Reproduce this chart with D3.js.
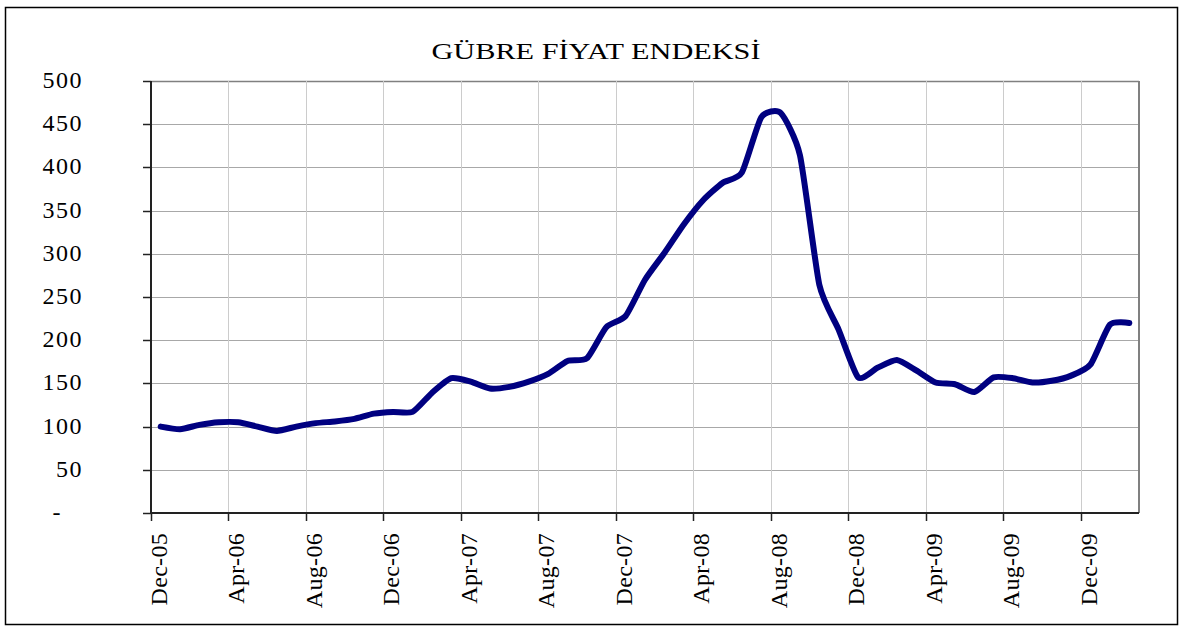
<!DOCTYPE html>
<html>
<head>
<meta charset="utf-8">
<script src="https://cdn.jsdelivr.net/npm/d3@7"></script>
<style>
    body { margin: 0; background: #fff; }
    text { font-family: "Liberation Serif", "Times New Roman", serif; fill: #000; }
</style>
</head>
<body>
<div id="chart"></div>
<script>

// monthly categories, Dec-05 .. Feb-10
var months = [
    "Dec-05", "Jan-06", "Feb-06", "Mar-06", "Apr-06", "May-06", "Jun-06", "Jul-06", "Aug-06", "Sep-06", "Oct-06", "Nov-06",
    "Dec-06", "Jan-07", "Feb-07", "Mar-07", "Apr-07", "May-07", "Jun-07", "Jul-07", "Aug-07", "Sep-07", "Oct-07", "Nov-07",
    "Dec-07", "Jan-08", "Feb-08", "Mar-08", "Apr-08", "May-08", "Jun-08", "Jul-08", "Aug-08", "Sep-08", "Oct-08", "Nov-08",
    "Dec-08", "Jan-09", "Feb-09", "Mar-09", "Apr-09", "May-09", "Jun-09", "Jul-09", "Aug-09", "Sep-09", "Oct-09", "Nov-09",
    "Dec-09", "Jan-10", "Feb-10"
]

var index = [
    100, 97, 102, 105, 105, 100, 95, 100, 104, 106, 109, 115,
    117, 117, 139, 156, 152, 144, 146, 152, 161, 176, 179, 215,
    228, 270, 301, 334, 362, 382, 394, 458, 463, 414, 264, 212,
    157, 168, 177, 165, 151, 149, 140, 157, 156, 151, 153, 159,
    172, 218, 220
]

var xTickLabels = ["Dec-05", "Apr-06", "Aug-06", "Dec-06", "Apr-07", "Aug-07", "Dec-07",
    "Apr-08", "Aug-08", "Dec-08", "Apr-09", "Aug-09", "Dec-09"]

var yTicks = [0, 50, 100, 150, 200, 250, 300, 350, 400, 450, 500]
var yTickLabels = ["-", "50", "100", "150", "200", "250", "300", "350", "400", "450", "500"]

var title = "GÜBRE FİYAT ENDEKSİ"

function draw() {
    let W = 1184, H = 632
    let pl = 151, pr = 1139, pt = 81, pb = 513

    let svg = d3.select("#chart").append("svg")
        .attr("width", W)
        .attr("height", H)

    // outer frame
    svg.append("rect")
        .attr("x", 5.5).attr("y", 7.5)
        .attr("width", 1172).attr("height", 617)
        .attr("fill", "#fff")
        .attr("stroke", "#000")
        .attr("stroke-width", 1.5)

    let x = d3.scaleBand().domain(months).range([pl, pr]).padding(0)
    let y = d3.scaleLinear().domain([0, 500]).range([pb, pt])

    // horizontal grid
    svg.append("g")
        .selectAll("line")
        .data(yTicks.slice(1))
        .enter()
        .append("line")
        .attr("x1", pl).attr("x2", pr)
        .attr("y1", d => Math.round(y(d)) + 0.5)
        .attr("y2", d => Math.round(y(d)) + 0.5)
        .attr("stroke", d => d == 500 ? "#808080" : "#a8a8a8")
        .attr("stroke-width", d => d == 500 ? 1.5 : 1)

    // vertical grid
    svg.append("g")
        .selectAll("line")
        .data(xTickLabels.slice(1))
        .enter()
        .append("line")
        .attr("x1", d => Math.round(x(d)) + 0.5)
        .attr("x2", d => Math.round(x(d)) + 0.5)
        .attr("y1", pt).attr("y2", pb)
        .attr("stroke", "#cccccc")
        .attr("stroke-width", 1)

    // right border of plot area
    svg.append("line")
        .attr("x1", pr).attr("x2", pr)
        .attr("y1", pt).attr("y2", pb)
        .attr("stroke", "#808080")
        .attr("stroke-width", 2)

    // y axis
    let yAxis = svg.append("g")
    yAxis.append("line")
        .attr("x1", pl).attr("x2", pl)
        .attr("y1", pt).attr("y2", pb)
        .attr("stroke", "#222").attr("stroke-width", 2)
    yAxis.selectAll(".ytick")
        .data(yTicks)
        .enter()
        .append("line")
        .attr("x1", pl - 8).attr("x2", pl)
        .attr("y1", d => Math.round(y(d)) + 0.5)
        .attr("y2", d => Math.round(y(d)) + 0.5)
        .attr("stroke", "#222").attr("stroke-width", 1.5)
    yAxis.selectAll(".ylab")
        .data(yTicks)
        .enter()
        .append("text")
        .attr("x", (d, i) => yTickLabels[i] == "-" ? 62 : 83)
        .attr("y", d => y(d) + 7)
        .attr("text-anchor", "end")
        .attr("font-size", "24px")
        .attr("letter-spacing", "1.5px")
        .text((d, i) => yTickLabels[i])

    // x axis
    let xAxis = svg.append("g")
    xAxis.append("line")
        .attr("x1", pl).attr("x2", pr)
        .attr("y1", pb).attr("y2", pb)
        .attr("stroke", "#222").attr("stroke-width", 2)
    xAxis.selectAll(".xtick")
        .data(xTickLabels)
        .enter()
        .append("line")
        .attr("x1", d => Math.round(x(d)) + 0.5)
        .attr("x2", d => Math.round(x(d)) + 0.5)
        .attr("y1", pb).attr("y2", pb + 8)
        .attr("stroke", "#222").attr("stroke-width", 1.5)
    xAxis.selectAll(".xlab")
        .data(xTickLabels)
        .enter()
        .append("text")
        .attr("transform", d => "translate(" + (x(d) + 16) + "," + 533 + ") rotate(-90)")
        .attr("text-anchor", "end")
        .attr("font-size", "24px")
        .attr("letter-spacing", "0.3px")
        .text(d => d)

    // series, lightly smoothed like the spreadsheet line
    let line = d3.line()
        .x((d, i) => x(months[i]) + x.bandwidth() / 2)
        .y(d => y(d))
        .curve(d3.curveCardinal.tension(0.4))

    svg.append("path")
        .datum(index)
        .attr("d", line)
        .attr("fill", "none")
        .attr("stroke", "#000080")
        .attr("stroke-width", 6)
        .attr("stroke-linejoin", "round")
        .attr("stroke-linecap", "round")

    // title
    svg.append("text")
        .attr("x", 596)
        .attr("y", 59)
        .attr("text-anchor", "middle")
        .attr("font-size", "24px")
        .attr("textLength", 329)
        .attr("lengthAdjust", "spacingAndGlyphs")
        .text(title)
}

draw()

</script>
</body>
</html>
